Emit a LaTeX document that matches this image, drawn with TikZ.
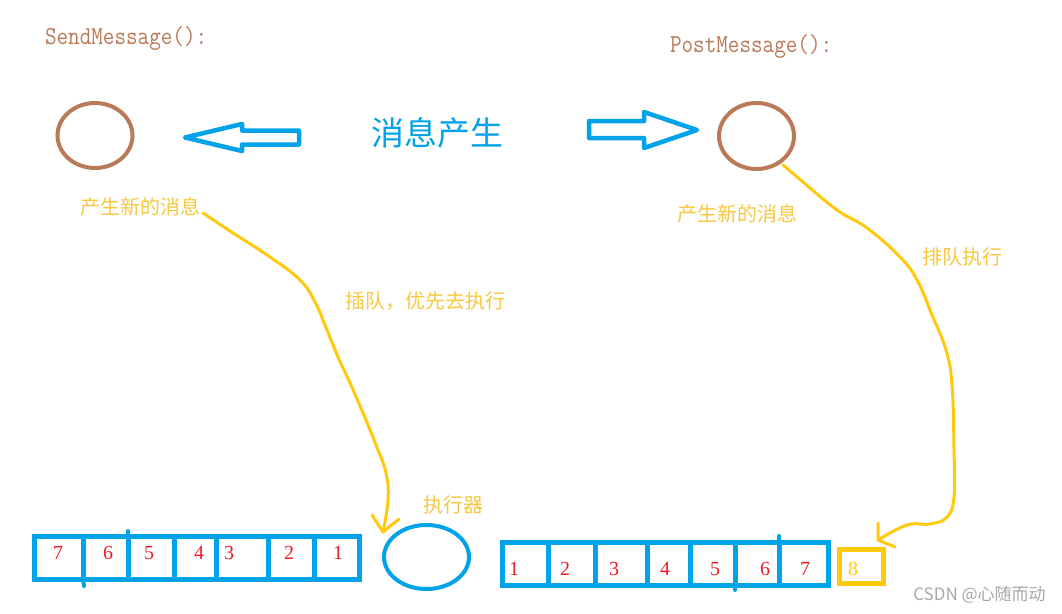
\documentclass[tikz,border=0pt]{standalone}
\usepackage{fontspec}
\setmainfont{Liberation Serif}
\newfontfamily\cjk{Noto Sans CJK SC}
\usetikzlibrary{shapes.geometric}
\definecolor{pblue}{HTML}{00A2E8}
\definecolor{pbrown}{HTML}{B97A57}
\definecolor{pgold}{HTML}{FFC90E}
\definecolor{ptext}{HTML}{F8C840}
\definecolor{pred}{HTML}{ED1C24}
\definecolor{wmgray}{HTML}{A8A8A8}
\tikzset{
  fn/.style={inner sep=0pt, outer sep=0pt},
  codelbl/.style={fn, text=pbrown, anchor=base west, font=\ttfamily\fontsize{22.5pt}{24pt}\selectfont},
  msgcirc/.style={draw=pbrown, line width=4pt, ellipse, inner sep=0pt, minimum width=75pt, minimum height=65pt},
  blockarrow/.style={draw=pblue, line width=4.5pt, line join=round},
  ylabel/.style={fn, text=ptext, font=\cjk\fontsize{20pt}{22pt}\selectfont},
  cell/.style={draw=pblue, line width=5pt, inner sep=0pt, minimum height=43pt},
  num/.style={fn, text=pred, font=\fontsize{20pt}{22pt}\selectfont},
  flow/.style={draw=pgold, line width=3pt, line cap=round, line join=round},
  tick/.style={draw=pblue, line width=4pt, line cap=round}
}
\begin{document}
\begin{tikzpicture}[x=1pt,y=-1pt]
\useasboundingbox[fill=white] (0,0) rectangle (1062,613);

% headings
\node[codelbl] (sendlbl) at (45,44) {\scalebox{1}[1.15]{SendMessage():}};
\node[codelbl] (postlbl) at (670,52) {\scalebox{1}[1.15]{PostMessage():}};

% message circles
\node[msgcirc] (sendc) at (95,135.5) {};
\node[msgcirc, minimum height=66pt] (postc) at (756.5,136) {};

% centre label
\node[fn, text=pblue, font=\cjk\fontsize{33pt}{36pt}\selectfont] (gen) at (437.5,133) {消息产生};

% block arrows
\draw[blockarrow] (185,137.5) -- (242,124) -- (242,130.5) -- (299,130.5) -- (299,144.5) -- (242,144.5) -- (242,151) -- cycle;
\draw[blockarrow] (589,121) -- (644,121) -- (644,112) -- (697,130) -- (644,148) -- (644,138) -- (589,138) -- cycle;

% yellow labels
\node[ylabel] (lnew) at (140,207) {产生新的消息};
\node[ylabel] (rnew) at (737.5,214) {产生新的消息};
\node[ylabel] (jump) at (425,301) {插队，优先去执行};
\node[ylabel] (queue) at (962,257) {排队执行};
\node[ylabel] (execlbl) at (453.5,505) {执行器};

% executor
\node[draw=pblue, line width=4pt, ellipse, inner sep=0pt, minimum width=85pt, minimum height=64pt] (exec) at (426.5,557) {};

% left queue
\node[cell, minimum width=48.5pt] (l7) at (58.75,558) {};
\node[cell, minimum width=45pt]   (l6) at (105.5,558) {};
\node[cell, minimum width=46pt]   (l5) at (151,558) {};
\node[cell, minimum width=42pt]   (l4) at (195,558) {};
\node[cell, minimum width=52pt]   (l3) at (242,558) {};
\node[cell, minimum width=46pt]   (l2) at (291,558) {};
\node[cell, minimum width=45.5pt] (l1) at (336.75,558) {};
\draw[tick] (83,579) -- (84,586);
\draw[tick] (128,537) -- (128,531);
\node[num] (n7l) at (58,553) {7};
\node[num] (n6l) at (108,553) {6};
\node[num] (n5l) at (149,553) {5};
\node[num] (n4l) at (199,553) {4};
\node[num] (n3l) at (229,553) {3};
\node[num] (n2l) at (289,553) {2};
\node[num] (n1l) at (338,553) {1};

% right queue
\node[cell, minimum width=45.5pt] (r1) at (525.25,564) {};
\node[cell, minimum width=47pt]   (r2) at (571.5,564) {};
\node[cell, minimum width=52pt]   (r3) at (621,564) {};
\node[cell, minimum width=43pt]   (r4) at (668.5,564) {};
\node[cell, minimum width=45pt]   (r5) at (712.5,564) {};
\node[cell, minimum width=44pt]   (r6) at (757,564) {};
\node[cell, minimum width=49pt]   (r7) at (803.5,564) {};
\draw[tick] (735,585) -- (735,590);
\draw[tick] (779,543) -- (779,536);
\node[num] (n1r) at (514,569) {1};
\node[num] (n2r) at (565,569) {2};
\node[num] (n3r) at (614,569) {3};
\node[num] (n4r) at (665,569) {4};
\node[num] (n5r) at (715,569) {5};
\node[num] (n6r) at (765,569) {6};
\node[num] (n7r) at (805,569) {7};
\node[draw=pgold, line width=5pt, inner sep=0pt, minimum width=44pt, minimum height=34.5pt] (r8) at (861.5,566.25) {};
\node[num, text=pgold] (n8r) at (853,569) {8};

% flow curves
\coordinate (ls) at (203,213);
\coordinate (le) at (383,532);
\draw[flow] plot[smooth, tension=0.7] coordinates {(ls) (233,233) (270,257) (300,280) (315,302) (327,330) (338,357) (350,383) (363,413) (376,445) (386,473) (388,500) (le)};
\draw[flow] (372,515) -- (le) -- (399,519);

\coordinate (rs) at (783,165);
\coordinate (re) at (878,540);
\draw[flow] plot[smooth, tension=0.7] coordinates {(rs) (803,182) (837,210) (867,228) (900,257) (917,280) (932,315) (946,350) (952,385) (954,450) (954,497) (947,517) (930,524) (907,525) (re)};
\draw[flow] (878,523) -- (re) -- (895,547);

% watermark
\node[fn, text=wmgray, font=\cjk\fontsize{17pt}{20pt}\selectfont] (wm) at (979.5,595) {CSDN @心随而动};
\end{tikzpicture}
\end{document}
